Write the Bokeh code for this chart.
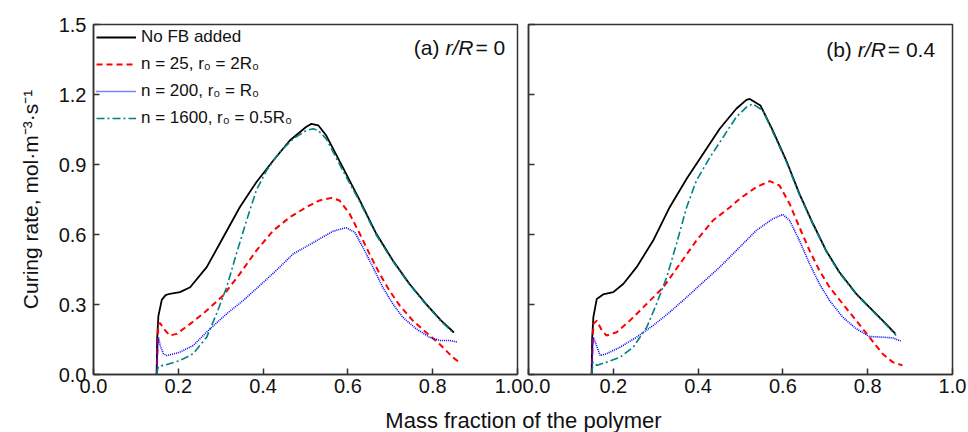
from bokeh.plotting import figure
from bokeh.models import (Range1d, FixedTicker, PrintfTickFormatter, Legend,
                          LegendItem, Label, CustomJSTickFormatter)
from bokeh.layouts import row, column
from bokeh.embed import file_html
from bokeh.resources import INLINE

FONT = "Liberation Sans"

# ---------------- data: panel (a) r/R = 0 ----------------
xa_nofb = [0.149, 0.150, 0.153, 0.161, 0.170, 0.180, 0.204, 0.228, 0.267, 0.306, 0.345, 0.384,
           0.424, 0.463, 0.502, 0.514, 0.530, 0.549, 0.588, 0.628, 0.667, 0.706, 0.745, 0.784,
           0.820, 0.850]
ya_nofb = [0.0, 0.15, 0.25, 0.32, 0.34, 0.346, 0.353, 0.374, 0.46, 0.588, 0.717, 0.824,
           0.917, 1.003, 1.062, 1.074, 1.068, 1.024, 0.888, 0.746, 0.603, 0.489, 0.389, 0.303,
           0.231, 0.18]

xa_n25 = [0.149, 0.151, 0.153, 0.157, 0.169, 0.180, 0.196, 0.228, 0.267, 0.306, 0.345, 0.384,
          0.424, 0.463, 0.502, 0.533, 0.561, 0.580, 0.604, 0.628, 0.651, 0.675, 0.698, 0.722,
          0.753, 0.784, 0.816, 0.847, 0.867]
ya_n25 = [0.0, 0.12, 0.217, 0.22, 0.189, 0.167, 0.174, 0.217, 0.274, 0.339, 0.431, 0.531,
          0.617, 0.674, 0.717, 0.746, 0.757, 0.746, 0.689, 0.603, 0.517, 0.431, 0.36, 0.296,
          0.231, 0.181, 0.131, 0.074, 0.046]

xa_n200 = [0.149, 0.151, 0.153, 0.158, 0.165, 0.173, 0.204, 0.235, 0.275, 0.314, 0.353, 0.392,
           0.431, 0.471, 0.518, 0.533, 0.565, 0.596, 0.616, 0.635, 0.659, 0.682, 0.706, 0.729,
           0.761, 0.792, 0.816, 0.839, 0.859]
ya_n200 = [0.0, 0.1, 0.16, 0.12, 0.089, 0.081, 0.096, 0.124, 0.196, 0.26, 0.317, 0.381,
           0.446, 0.517, 0.565, 0.581, 0.614, 0.629, 0.61, 0.546, 0.46, 0.374, 0.303, 0.246,
           0.196, 0.16, 0.146, 0.146, 0.139]

xa_n1600 = [0.149, 0.151, 0.153, 0.173, 0.204, 0.235, 0.267, 0.290, 0.314, 0.337, 0.361, 0.384,
            0.408, 0.439, 0.471, 0.502, 0.518, 0.530, 0.549, 0.588, 0.628, 0.667, 0.706, 0.745,
            0.784, 0.820, 0.847]
ya_n1600 = [0.0, 0.02, 0.034, 0.043, 0.06, 0.089, 0.16, 0.26, 0.374, 0.517, 0.66, 0.789,
            0.874, 0.953, 1.01, 1.046, 1.053, 1.046, 1.01, 0.874, 0.74, 0.598, 0.485, 0.386,
            0.30, 0.228, 0.181]

# ---------------- data: panel (b) r/R = 0.4 ----------------
xb_nofb = [0.149, 0.150, 0.153, 0.161, 0.176, 0.200, 0.224, 0.255, 0.294, 0.333, 0.373, 0.412,
           0.451, 0.490, 0.514, 0.522, 0.547, 0.576, 0.608, 0.639, 0.671, 0.702, 0.733, 0.773,
           0.812, 0.843, 0.865]
yb_nofb = [0.0, 0.15, 0.246, 0.324, 0.343, 0.353, 0.389, 0.46, 0.574, 0.717, 0.839, 0.946,
           1.053, 1.139, 1.177, 1.181, 1.153, 1.046, 0.917, 0.774, 0.646, 0.531, 0.439, 0.346,
           0.274, 0.217, 0.175]

xb_n25 = [0.149, 0.151, 0.153, 0.161, 0.173, 0.184, 0.208, 0.239, 0.279, 0.318, 0.357, 0.396,
          0.435, 0.475, 0.498, 0.537, 0.569, 0.592, 0.616, 0.639, 0.663, 0.686, 0.710, 0.741,
          0.773, 0.804, 0.835, 0.859, 0.882]
yb_n25 = [0.0, 0.12, 0.217, 0.231, 0.189, 0.167, 0.181, 0.231, 0.303, 0.374, 0.474, 0.574,
          0.66, 0.717, 0.753, 0.803, 0.829, 0.81, 0.731, 0.631, 0.531, 0.446, 0.374, 0.303,
          0.231, 0.16, 0.089, 0.053, 0.039]

xb_n200 = [0.149, 0.151, 0.153, 0.159, 0.169, 0.184, 0.216, 0.255, 0.294, 0.333, 0.373, 0.412,
           0.451, 0.490, 0.537, 0.576, 0.600, 0.616, 0.639, 0.663, 0.686, 0.710, 0.741, 0.773,
           0.804, 0.835, 0.859, 0.878]
yb_n200 = [0.0, 0.1, 0.16, 0.131, 0.081, 0.089, 0.117, 0.16, 0.21, 0.267, 0.331, 0.396,
           0.46, 0.531, 0.617, 0.667, 0.686, 0.66, 0.574, 0.474, 0.389, 0.317, 0.246, 0.196,
           0.163, 0.16, 0.157, 0.143]

xb_n1600 = [0.149, 0.151, 0.152, 0.161, 0.184, 0.216, 0.247, 0.279, 0.302, 0.326, 0.349, 0.373,
            0.396, 0.428, 0.459, 0.490, 0.514, 0.529, 0.553, 0.576, 0.608, 0.639, 0.671, 0.702,
            0.733, 0.773, 0.812, 0.843, 0.867]
yb_n1600 = [0.0, 0.03, 0.053, 0.039, 0.053, 0.074, 0.117, 0.203, 0.303, 0.417, 0.56, 0.717,
            0.831, 0.931, 1.017, 1.103, 1.146, 1.16, 1.131, 1.04, 0.912, 0.77, 0.642, 0.528,
            0.436, 0.343, 0.271, 0.214, 0.167]

legend_labels = ["No FB added", "n = 25, r\u2080 = 2R\u2080", "n = 200, r\u2080 = R\u2080",
                 "n = 1600, r\u2080 = 0.5R\u2080"]
x_ticks = [0.0, 0.2, 0.4, 0.6, 0.8, 1.0]
y_ticks = [0.0, 0.3, 0.6, 0.9, 1.2, 1.5]

styles = [
    dict(line_color="#000000", line_width=1.8),
    dict(line_color="#ff0000", line_width=2.0, line_dash="6 4"),
    dict(line_color="#0000ff", line_width=1.6, line_dash="1 1"),
    dict(line_color="#008080", line_width=1.6, line_dash="8 3 2 3"),
]

CHAR_W = {"=": 0.584, " ": 0.278, ".": 0.278}


def text_width(s, fs):
    return sum(CHAR_W.get(c, 0.556) for c in s) * fs


def make_panel(width, left, right, show_ylabels):
    p = figure(width=width, height=408, output_backend="svg", toolbar_location=None,
               x_range=Range1d(0, 1), y_range=Range1d(0, 1.5),
               min_border_left=left, min_border_right=right,
               min_border_top=24, min_border_bottom=34)
    p.grid.visible = False
    p.background_fill_color = "white"
    p.outline_line_color = "#333333"
    p.outline_line_width = 1.5
    for ax in (p.xaxis[0], p.yaxis[0]):
        ax.axis_line_color = "#333333"
        ax.axis_line_width = 1.5
        ax.major_tick_line_color = "#333333"
        ax.major_tick_line_width = 1.5
        ax.major_tick_in = 6
        ax.major_tick_out = 0
        ax.minor_tick_line_color = None
        ax.major_label_text_font = FONT
        ax.major_label_text_font_size = "20px"
        ax.major_label_text_color = "#111111"
        ax.formatter = PrintfTickFormatter(format="%.1f")
    p.xaxis.ticker = FixedTicker(ticks=x_ticks)
    p.yaxis.ticker = FixedTicker(ticks=y_ticks)
    p.xaxis.major_label_standoff = 4
    if show_ylabels:
        p.yaxis.major_label_standoff = 7
        p.yaxis.axis_label = "Curing rate, mol\u00b7m\u207b\u00b3\u00b7s\u207b\u00b9"
        p.yaxis.axis_label_text_font = FONT
        p.yaxis.axis_label_text_font_size = "21px"
        p.yaxis.axis_label_text_font_style = "normal"
        p.yaxis.axis_label_text_color = "#111111"
        p.yaxis.axis_label_standoff = 14
    else:
        p.yaxis.formatter = CustomJSTickFormatter(code="return ''")
        p.yaxis.major_label_standoff = 0
    return p


p1 = make_panel(522, 93, 5, True)
p2 = make_panel(446, 6, 16, False)

items = []
for (xs, ys), st, lab in zip([(xa_nofb, ya_nofb), (xa_n25, ya_n25), (xa_n200, ya_n200),
                              (xa_n1600, ya_n1600)], styles, legend_labels):
    r = p1.line(xs, ys, **st)
    items.append(LegendItem(label=lab, renderers=[r]))
for (xs, ys), st in zip([(xb_nofb, yb_nofb), (xb_n25, yb_n25), (xb_n200, yb_n200),
                         (xb_n1600, yb_n1600)], styles):
    p2.line(xs, ys, **st)

leg = Legend(items=items, location="top_left", margin=3, padding=6, spacing=7,
             glyph_width=40, glyph_height=20, label_standoff=5, label_height=20,
             label_text_font=FONT, label_text_font_size="17px", label_text_color="#111111",
             border_line_color=None, background_fill_alpha=0)
p1.add_layout(leg, "center")


def panel_tag(p, x_end, y, tag, tail):
    fs = 21
    w_tail = text_width(tail, fs)
    p.add_layout(Label(x=x_end, y=y, text=tail, text_align="right", text_baseline="middle",
                       text_font=FONT, text_font_size=f"{fs}px", text_color="#111111"))
    w_it = 1.333 * fs
    p.add_layout(Label(x=x_end, y=y, x_offset=-w_tail - 2, text="r/R", text_align="right",
                       text_baseline="middle", text_font=FONT, text_font_style="italic",
                       text_font_size=f"{fs}px", text_color="#111111"))
    p.add_layout(Label(x=x_end, y=y, x_offset=-w_tail - w_it - 8, text=tag, text_align="right",
                       text_baseline="middle", text_font=FONT, text_font_size=f"{fs}px",
                       text_color="#111111"))


panel_tag(p1, 0.971, 1.40, "(a)", "= 0")
panel_tag(p2, 0.959, 1.393, "(b)", "= 0.4")

p3 = figure(width=968, height=24, output_backend="svg", toolbar_location=None,
            x_range=Range1d(0, 968), y_range=Range1d(0, 24),
            min_border=0, min_border_left=0, min_border_right=0,
            min_border_top=0, min_border_bottom=0)
p3.axis.visible = False
p3.grid.visible = False
p3.outline_line_color = None
p3.add_layout(Label(x=523, y=12, text="Mass fraction of the polymer", text_align="center",
                    text_baseline="middle", text_font=FONT, text_font_size="22px",
                    text_color="#111111"))

layout = column(row(p1, p2), p3)
open("out.html", "w").write(file_html(layout, INLINE))
